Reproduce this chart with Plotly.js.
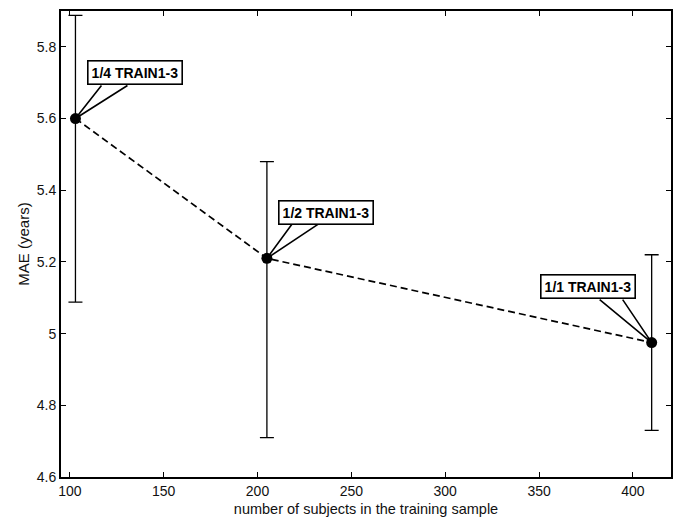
<!DOCTYPE html>
<html>
<head>
<meta charset="utf-8">
<script src="https://cdn.plot.ly/plotly-3.0.1.min.js"></script>
<style>html,body{margin:0;padding:0;background:#fff;}#chart{width:677px;height:518px;}</style>
</head>
<body>
<div id="chart"></div>
<script>
// Data
const subjects = [103, 205, 410];
const mae = [5.60, 5.21, 4.975];
const errPlus = [0.288, 0.27, 0.245];
const errMinus = [0.512, 0.50, 0.245];
const labels = ['1/4 TRAIN1-3', '1/2 TRAIN1-3', '1/1 TRAIN1-3'];
const xTicks = [100, 150, 200, 250, 300, 350, 400];
const yTicks = [4.6, 4.8, 5.0, 5.2, 5.4, 5.6, 5.8];

// callout placement (pixel offsets of label box and wedge)
const callout = [
  {dx: 59.5, dy: 45.8, w1: [26, 33], w2: [52, 33]},
  {dx: 59.5, dy: 45.8, w1: [25, 34], w2: [51, 34]},
  {dx: -63.4, dy: 55.8, w1: [-52, 43], w2: [-29, 43]}
];

const trace = {
  x: subjects, y: mae, type: 'scatter', mode: 'lines+markers',
  line: {color: '#000', width: 1.7, dash: '7px,4px'},
  marker: {color: '#000', size: 11},
  error_y: {type: 'data', symmetric: false, array: errPlus, arrayminus: errMinus,
            color: '#000', thickness: 1.3, width: 7},
  hoverinfo: 'skip'
};

const annotations = labels.map((t, i) => ({
  x: subjects[i], y: mae[i], xref: 'x', yref: 'y', showarrow: false,
  xshift: callout[i].dx, yshift: callout[i].dy,
  text: t, font: {family: 'Liberation Sans, Arial, sans-serif', size: 14, color: '#000', weight: 'bold'},
  bgcolor: '#fff', bordercolor: '#000', borderwidth: 1.6, borderpad: 3
}));

const shapes = labels.map((t, i) => ({
  type: 'path', xref: 'x', yref: 'y', xsizemode: 'pixel', ysizemode: 'pixel',
  xanchor: subjects[i], yanchor: mae[i],
  path: `M ${callout[i].w1[0]} ${callout[i].w1[1]} L 0 0 L ${callout[i].w2[0]} ${callout[i].w2[1]}`,
  line: {color: '#000', width: 1.6}
}));

const axisFont = {family: 'Liberation Sans, Arial, sans-serif', size: 14, color: '#111'};
const layout = {
  width: 677, height: 518,
  margin: {l: 61, r: 6, t: 11, b: 41},
  paper_bgcolor: '#fff', plot_bgcolor: '#fff',
  showlegend: false,
  xaxis: {
    range: [95.3, 420.3], tickvals: xTicks, ticktext: xTicks.map(String),
    ticks: 'inside', ticklen: 5, tickwidth: 1, tickcolor: '#000',
    showline: true, linecolor: '#000', linewidth: 2, mirror: 'ticks',
    showgrid: false, zeroline: false, tickfont: axisFont,
    title: {text: 'number of subjects in the training sample', font: {family: 'Liberation Sans, Arial, sans-serif', size: 14.5, color: '#111'}, standoff: 6}
  },
  yaxis: {
    range: [4.6, 5.9], tickvals: yTicks, ticktext: yTicks.map(v => String(+v.toFixed(1))),
    ticks: 'inside', ticklen: 5, tickwidth: 1, tickcolor: '#000',
    showline: true, linecolor: '#000', linewidth: 2, mirror: 'ticks',
    showgrid: false, zeroline: false, tickfont: axisFont,
    title: {text: 'MAE (years)', font: {family: 'Liberation Sans, Arial, sans-serif', size: 15, color: '#111'}, standoff: 3}
  },
  annotations: annotations,
  shapes: shapes
};

Plotly.newPlot('chart', [trace], layout, {displayModeBar: false, staticPlot: true});
</script>
</body>
</html>
